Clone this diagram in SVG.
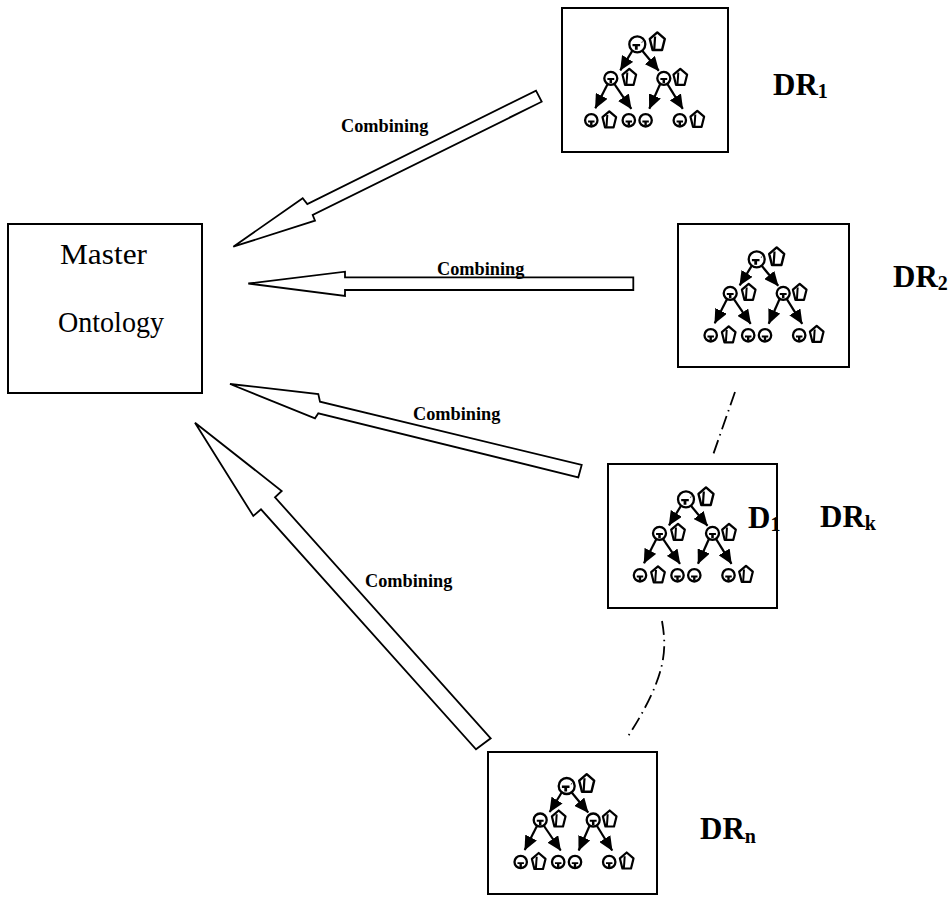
<svg xmlns="http://www.w3.org/2000/svg" xmlns:xlink="http://www.w3.org/1999/xlink" width="952" height="897" viewBox="0 0 952 897">
  <style>
    .box { fill: #ffffff; stroke: #000000; stroke-width: 2; }
    .block { fill: #ffffff; stroke: #000000; stroke-width: 1.8; stroke-linejoin: miter; }
    .comb { font-family: "Liberation Serif", "Times New Roman", serif; font-weight: bold; font-size: 18.3px; fill: #000000; }
    .lbl { font-family: "Liberation Serif", "Times New Roman", serif; font-weight: bold; font-size: 31px; fill: #000000; }
    .master { font-family: "Liberation Serif", "Times New Roman", serif; font-size: 30px; fill: #000000; }
    .dashdot { fill: none; stroke: #000000; stroke-width: 1.8; stroke-dasharray: 14 5 1.5 5; }
    .tnode { fill: #ffffff; stroke: #000000; stroke-width: 2.3; }
    .tedge { fill: none; stroke: #000000; stroke-width: 2.2; marker-end: url(#head); }
    .pent { fill: #ffffff; stroke: #000000; stroke-width: 2.2; stroke-linejoin: round; }
  </style>
  <defs>
    <marker id="head" markerUnits="userSpaceOnUse" markerWidth="15" markerHeight="13" refX="14" refY="6.5" orient="auto">
      <path d="M0,0 L14.5,6.5 L0,13 Z" fill="#000000"/>
    </marker>
    <!-- small T mark inside a tree node -->
    <path id="tmark" d="M-3.8,-0.4 h7.6 v2.3 h-2.4 v3.6 h-2.8 v-3.6 h-2.4 Z" fill="#000000"/>
    <!-- pentagon badge beside a tree node -->
    <g id="badge">
      <path class="pent" d="M0,-8.5 L6.8,-2.6 L4.3,7.5 L-4.3,7.5 L-6.8,-2.6 Z"/>
      <path d="M-2,-4.8 L-2.8,7" stroke="#000000" stroke-width="2"/>
    </g>
    <!-- three-level tree icon, origin at the root node -->
    <g id="tree">
      <line class="tedge" x1="-5" y1="6.5" x2="-17" y2="26"/>
      <line class="tedge" x1="5" y1="6.5" x2="21.5" y2="26.5"/>
      <line class="tedge" x1="-29.5" y1="39.5" x2="-42" y2="64"/>
      <line class="tedge" x1="-23" y1="39.5" x2="-6" y2="64.5"/>
      <line class="tedge" x1="23" y1="39.5" x2="12" y2="64.5"/>
      <line class="tedge" x1="30" y1="39.5" x2="45.5" y2="64.5"/>

      <circle class="tnode" cx="0" cy="0" r="8"/>
      <use xlink:href="#tmark" x="-1" y="0"/>
      <path d="M4.5,-1.5 l0.6,-1.4" stroke="#000000" stroke-width="0.8"/>
      <use xlink:href="#badge" transform="translate(20,-2.5) scale(1.1)"/>

      <circle class="tnode" cx="-26.5" cy="34" r="6.5"/>
      <use xlink:href="#tmark" transform="translate(-26.5,34) scale(0.9)"/>
      <use xlink:href="#badge" x="-8" y="33"/>

      <circle class="tnode" cx="26.5" cy="34" r="6.5"/>
      <use xlink:href="#tmark" transform="translate(26.5,34) scale(0.9)"/>
      <use xlink:href="#badge" x="43" y="33"/>

      <circle class="tnode" cx="-46" cy="76" r="6.2"/>
      <use xlink:href="#tmark" transform="translate(-46,76.5) scale(0.85)"/>
      <use xlink:href="#badge" x="-28" y="75.5"/>

      <circle class="tnode" cx="-8.5" cy="76" r="6.2"/>
      <use xlink:href="#tmark" transform="translate(-8.5,76.5) scale(0.85)"/>

      <circle class="tnode" cx="8.3" cy="76" r="6.2"/>
      <use xlink:href="#tmark" transform="translate(8.3,76.5) scale(0.85)"/>

      <circle class="tnode" cx="42.5" cy="76" r="6.2"/>
      <use xlink:href="#tmark" transform="translate(42.5,76.5) scale(0.85)"/>
      <use xlink:href="#badge" x="60" y="75"/>
    </g>
  </defs>

  <rect width="952" height="897" fill="#ffffff"/>

  <!-- connectors: block arrows into the master ontology and dash-dot continuation lines -->
  <g id="connectors">
    <polygon class="block" points="233.3,246.7 302.7,198.3 307.3,204 536,90.7 541.7,101.7 312.7,215 315,220.7"/>
    <text class="comb" x="341" y="132">Combining</text>

    <polygon class="block" points="248.3,283.5 345,271.7 345,277.3 633.3,277.3 633.3,290 345,290 345,296"/>
    <text class="comb" x="437" y="275">Combining</text>

    <polygon class="block" points="230,384 318.3,394 320,401.7 581.7,465 578.3,477.3 318.3,413.3 315,418.3"/>
    <text class="comb" x="413" y="420">Combining</text>

    <polygon class="block" points="195,422.7 253.3,516 261,509.3 476,749.3 490.7,738.3 275,497.3 281.7,491"/>
    <text class="comb" x="365" y="587">Combining</text>

    <path class="dashdot" d="M735,392 L713,455"/>
    <path class="dashdot" d="M662,621 C667,650 667,676 627,738"/>
  </g>

  <g id="master">
    <rect class="box" x="8" y="224" width="194" height="169"/>
    <text class="master" x="60" y="264" textLength="87" lengthAdjust="spacingAndGlyphs">Master</text>
    <text class="master" x="58" y="332" textLength="106" lengthAdjust="spacingAndGlyphs">Ontology</text>
  </g>

  <g id="dr1">
    <rect class="box" x="562" y="8" width="166" height="144"/>
    <use xlink:href="#tree" x="637.3" y="44.3"/>
    <text class="lbl" x="773" y="95">DR<tspan font-size="20" dy="3">1</tspan></text>
  </g>

  <g id="dr2">
    <rect class="box" x="678" y="224" width="171" height="143"/>
    <use xlink:href="#tree" x="756.7" y="259.3"/>
    <text class="lbl" x="893" y="287">DR<tspan font-size="20" dy="3">2</tspan></text>
  </g>

  <g id="drk">
    <rect class="box" x="608" y="464" width="169" height="144"/>
    <use xlink:href="#tree" x="686" y="499.3"/>
    <text class="lbl" x="748" y="528">D<tspan font-size="20" dy="3">1</tspan></text>
    <text class="lbl" x="820" y="527">DR<tspan font-size="20" dy="3">k</tspan></text>
  </g>

  <g id="drn">
    <rect class="box" x="488" y="752" width="169" height="142"/>
    <use xlink:href="#tree" x="566.7" y="786"/>
    <text class="lbl" x="700" y="839">DR<tspan font-size="20" dy="4">n</tspan></text>
  </g>
</svg>
